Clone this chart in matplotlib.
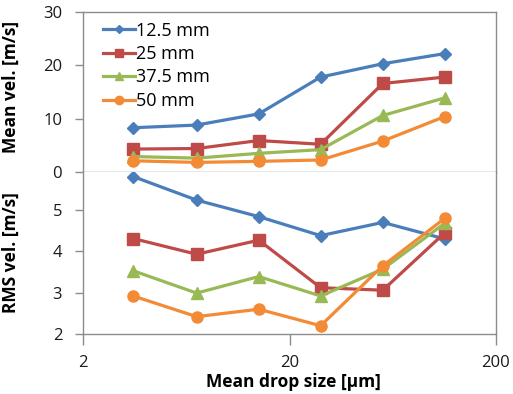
import matplotlib
matplotlib.use("Agg")
import matplotlib.pyplot as plt
from matplotlib.ticker import FixedLocator, NullLocator
from matplotlib.lines import Line2D

plt.rcParams['font.family'] = ['Open Sans', 'DejaVu Sans']

drop_size = [3.5, 7.1, 14.2, 28.3, 56.6, 113.0]
series_labels = ["12.5 mm", "25 mm", "37.5 mm", "50 mm"]
mean_vel = [
    [8.3, 8.8, 10.9, 17.8, 20.3, 22.2],
    [4.3, 4.4, 5.9, 5.2, 16.6, 17.8],
    [2.9, 2.6, 3.5, 4.2, 10.6, 13.9],
    [2.1, 1.8, 2.0, 2.25, 5.8, 10.4],
]
rms_vel = [
    [5.81, 5.24, 4.84, 4.38, 4.70, 4.30],
    [4.31, 3.93, 4.27, 3.12, 3.06, 4.45],
    [3.53, 2.99, 3.39, 2.92, 3.57, 4.68],
    [2.92, 2.42, 2.60, 2.20, 3.65, 4.80],
]
x_ticks = [2, 20, 200]
top_yticks = [0, 10, 20, 30]
bot_yticks = [2, 3, 4, 5]

colors = ['#4A7EBB', '#BE4B48', '#98B954', '#F38A36']
markers = ['D', 's', '^', 'o']
msizes = [6, 8, 8, 8]
spine_c = '#8C8C8C'
fs = 12

W, H = 513, 394
fig = plt.figure(figsize=(W / 100, H / 100), dpi=100)
L, R = 83 / W, 496 / W
ax1 = fig.add_axes([L, 1 - 172 / H, R - L, 160 / H])
ax2 = fig.add_axes([L, 1 - 334 / H, R - L, 162 / H])

for i in range(4):
    ax1.plot(drop_size, mean_vel[i], color=colors[i], marker=markers[i],
             markersize=msizes[i], linewidth=2.3, label=series_labels[i])
    ax2.plot(drop_size, rms_vel[i], color=colors[i], marker=markers[i],
             markersize=msizes[i], linewidth=2.3)

for ax in (ax1, ax2):
    ax.set_xscale('log')
    ax.set_xlim(2, 200)
    ax.xaxis.set_major_locator(FixedLocator(x_ticks))
    ax.xaxis.set_minor_locator(NullLocator())
    for s in ax.spines.values():
        s.set_color(spine_c)
        s.set_linewidth(1.0)
    ax.tick_params(axis='both', colors=spine_c, labelcolor='#1a1a1a',
                   labelsize=fs, direction='out', length=6, width=1)
    ax.tick_params(axis='y', pad=9)

ax1.set_ylim(0, 30)
ax1.set_yticks(top_yticks)
ax1.tick_params(axis='x', bottom=False, labelbottom=False)
ax1.set_ylabel('Mean vel. [m/s]', fontsize=12.5, fontweight='bold')

ax2.set_ylim(2, 5.92)
ax2.set_yticks(bot_yticks)
ax2.set_xticklabels([str(t) for t in x_ticks])
ax2.tick_params(axis='x', pad=7, length=8)
ax2.spines['top'].set_visible(False)
ax2.set_ylabel('RMS vel. [m/s]', fontsize=12.5, fontweight='bold')
ax2.set_xlabel('Mean drop size [μm]', fontsize=12.5, fontweight='bold')
ax2.xaxis.set_label_coords(0.51, -0.238)
ax1.yaxis.set_label_coords(-0.152, 0.53)
ax2.yaxis.set_label_coords(-0.152, 0.5)

handles = [Line2D([], [], color=colors[i], marker=markers[i],
                  markersize=msizes[i] - 2, linewidth=2.3) for i in range(4)]
leg = ax1.legend(handles, series_labels, loc='upper left', frameon=False,
                 fontsize=13, handlelength=1.8, handletextpad=0.05,
                 labelspacing=0.3, borderaxespad=0.0,
                 bbox_to_anchor=(0.03, 0.985))

fig.savefig('out.png', dpi=100)
